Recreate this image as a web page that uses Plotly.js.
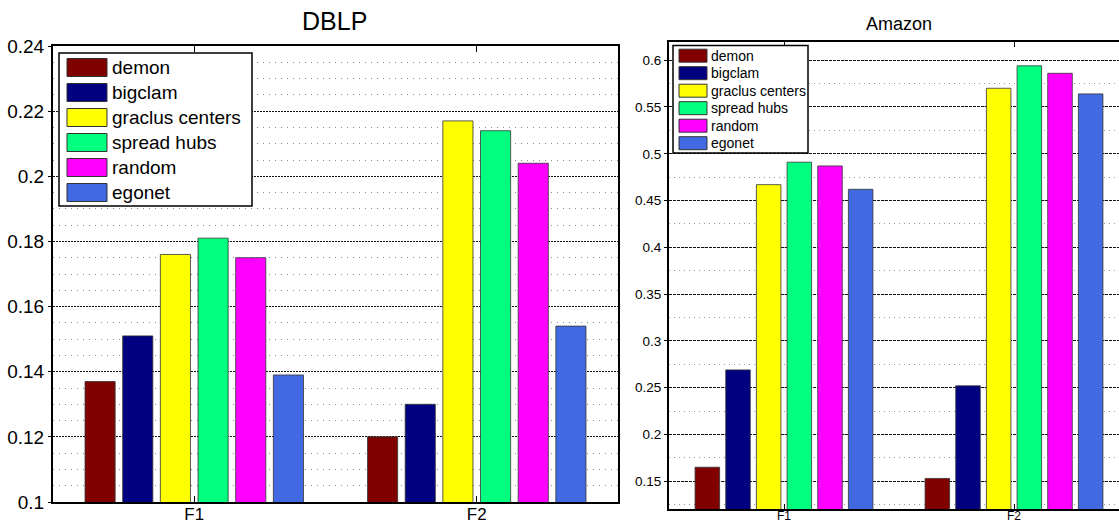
<!DOCTYPE html>
<html>
<head>
<meta charset="utf-8">
<script src="https://cdn.plot.ly/plotly-3.0.1.min.js"></script>
<style>
  html, body { margin: 0; padding: 0; background: #fff; }
  #chart { width: 1119px; height: 523px; }
</style>
</head>
<body>
<div id="chart"></div>
<script>
// ---- data ----
const categories = ['F1', 'F2'];
const methods = ['demon', 'bigclam', 'graclus centers', 'spread hubs', 'random', 'egonet'];
const colors = ['#800000', '#000080', '#FFFF00', '#00FF7F', '#FF00FF', '#4169E1'];

const dblpDemon   = [0.137, 0.120];
const dblpBigclam = [0.151, 0.130];
const dblpGraclus = [0.176, 0.217];
const dblpSpread  = [0.181, 0.214];
const dblpRandom  = [0.175, 0.204];
const dblpEgonet  = [0.139, 0.154];

const amzDemon   = [0.165, 0.153];
const amzBigclam = [0.269, 0.252];
const amzGraclus = [0.467, 0.570];
const amzSpread  = [0.491, 0.594];
const amzRandom  = [0.487, 0.586];
const amzEgonet  = [0.462, 0.564];

const dblpSeries = [dblpDemon, dblpBigclam, dblpGraclus, dblpSpread, dblpRandom, dblpEgonet];
const amzSeries  = [amzDemon, amzBigclam, amzGraclus, amzSpread, amzRandom, amzEgonet];

// ---- layout helpers ----
const W = 1119, H = 523;
const px = x => x / W;
const py = y => 1 - y / H;
const FONT = 'Liberation Sans, Arial, Helvetica, sans-serif';

const traces = [];
methods.forEach((m, i) => {
  traces.push({
    type: 'bar', name: m, x: categories, y: dblpSeries[i],
    xaxis: 'x', yaxis: 'y', showlegend: false,
    marker: { color: colors[i], line: { color: '#333', width: 0.8 } },
    hoverinfo: 'x+y+name'
  });
  traces.push({
    type: 'bar', name: m, x: categories, y: amzSeries[i],
    xaxis: 'x2', yaxis: 'y2', showlegend: false,
    marker: { color: colors[i], line: { color: '#333', width: 0.8 } },
    hoverinfo: 'x+y+name'
  });
});

// custom legends (big swatches, boxed), built from the names/colors arrays
const shapes = [];
const annotations = [];
function addLegend(box, sw, textX, rowY0, pitch, swH, fontSize) {
  shapes.push({
    type: 'rect', xref: 'paper', yref: 'paper', layer: 'above',
    x0: px(box.x0), x1: px(box.x1), y0: py(box.y1), y1: py(box.y0),
    fillcolor: '#fff', line: { color: '#000', width: 1.5 }
  });
  methods.forEach((m, i) => {
    const cy = rowY0 + pitch * i;
    shapes.push({
      type: 'rect', xref: 'paper', yref: 'paper', layer: 'above',
      x0: px(sw.x0), x1: px(sw.x1), y0: py(cy + swH / 2), y1: py(cy - swH / 2),
      fillcolor: colors[i], line: { color: '#333', width: 1 }
    });
    annotations.push({
      xref: 'paper', yref: 'paper', x: px(textX), y: py(cy),
      xanchor: 'left', yanchor: 'middle', showarrow: false, text: m,
      font: { family: FONT, size: fontSize, color: '#000' }
    });
  });
}
addLegend({ x0: 59, x1: 252, y0: 53, y1: 206 }, { x0: 67, x1: 107 }, 110, 67.5, 25, 18, 19);
addLegend({ x0: 673, x1: 808, y0: 45.5, y1: 153 }, { x0: 679, x1: 707 }, 709, 55.7, 17.5, 13, 14);

annotations.push({
  xref: 'paper', yref: 'paper', x: px(334), y: py(21), xanchor: 'center', yanchor: 'middle',
  showarrow: false, text: 'DBLP', font: { family: FONT, size: 25, color: '#000' }
});
annotations.push({
  xref: 'paper', yref: 'paper', x: px(898.5), y: py(24), xanchor: 'center', yanchor: 'middle',
  showarrow: false, text: 'Amazon', font: { family: FONT, size: 18, color: '#000' }
});

const layout = {
  width: W, height: H,
  margin: { l: 0, r: 0, t: 0, b: 0 },
  paper_bgcolor: '#fff', plot_bgcolor: '#fff',
  barmode: 'group', bargap: 0.2, bargroupgap: 0.2,
  showlegend: false,
  font: { family: FONT, color: '#000' },
  xaxis: {
    domain: [px(53), px(618)], anchor: 'y',
    type: 'category', range: [-0.5, 1.5],
    showline: true, linecolor: '#000', linewidth: 2, mirror: 'ticks',
    ticks: 'inside', ticklen: 6, tickcolor: '#000', ticklabelstandoff: -4,
    tickfont: { family: FONT, size: 17 }, showgrid: false, zeroline: false, fixedrange: true
  },
  yaxis: {
    domain: [py(502), py(46)], anchor: 'x',
    range: [0.1, 0.24], tickvals: [0.1, 0.12, 0.14, 0.16, 0.18, 0.2, 0.22, 0.24],
    ticktext: ['0.1', '0.12', '0.14', '0.16', '0.18', '0.2', '0.22', '0.24'],
    showline: true, linecolor: '#000', linewidth: 2, mirror: true,
    ticks: 'outside', ticklen: 3, tickcolor: '#000',
    tickfont: { family: FONT, size: 19 },
    showgrid: true, gridcolor: '#111', gridwidth: 1, griddash: '2px,1px',
    minor: { dtick: 0.005, tick0: 0.1, showgrid: true, gridcolor: '#888', gridwidth: 1, griddash: '1px,5px', ticks: '' },
    zeroline: false, fixedrange: true
  },
  xaxis2: {
    domain: [px(669), 1], anchor: 'y2',
    type: 'category', range: [-0.5, -0.5 + (1119 - 669) / 230],
    showline: true, linecolor: '#000', linewidth: 2, mirror: 'ticks',
    ticks: 'inside', ticklen: 5, tickcolor: '#000', ticklabelstandoff: -6,
    tickfont: { family: FONT, size: 12 }, showgrid: false, zeroline: false, fixedrange: true
  },
  yaxis2: {
    domain: [py(509.3), py(41.5)], anchor: 'x2',
    range: [0.12, 0.62], tickvals: [0.15, 0.2, 0.25, 0.3, 0.35, 0.4, 0.45, 0.5, 0.55, 0.6],
    ticktext: ['0.15', '0.2', '0.25', '0.3', '0.35', '0.4', '0.45', '0.5', '0.55', '0.6'],
    showline: true, linecolor: '#000', linewidth: 2, mirror: false,
    ticks: 'outside', ticklen: 3, tickcolor: '#000',
    tickfont: { family: FONT, size: 13.5 },
    showgrid: true, gridcolor: '#111', gridwidth: 1, griddash: '3px,1px',
    minor: { dtick: 0.025, tick0: 0.125, showgrid: true, gridcolor: '#999', gridwidth: 1, griddash: '1px,4px', ticks: '' },
    zeroline: false, fixedrange: true
  },
  shapes: shapes,
  annotations: annotations
};

Plotly.newPlot('chart', traces, layout, { displayModeBar: false, staticPlot: true });
</script>
</body>
</html>
